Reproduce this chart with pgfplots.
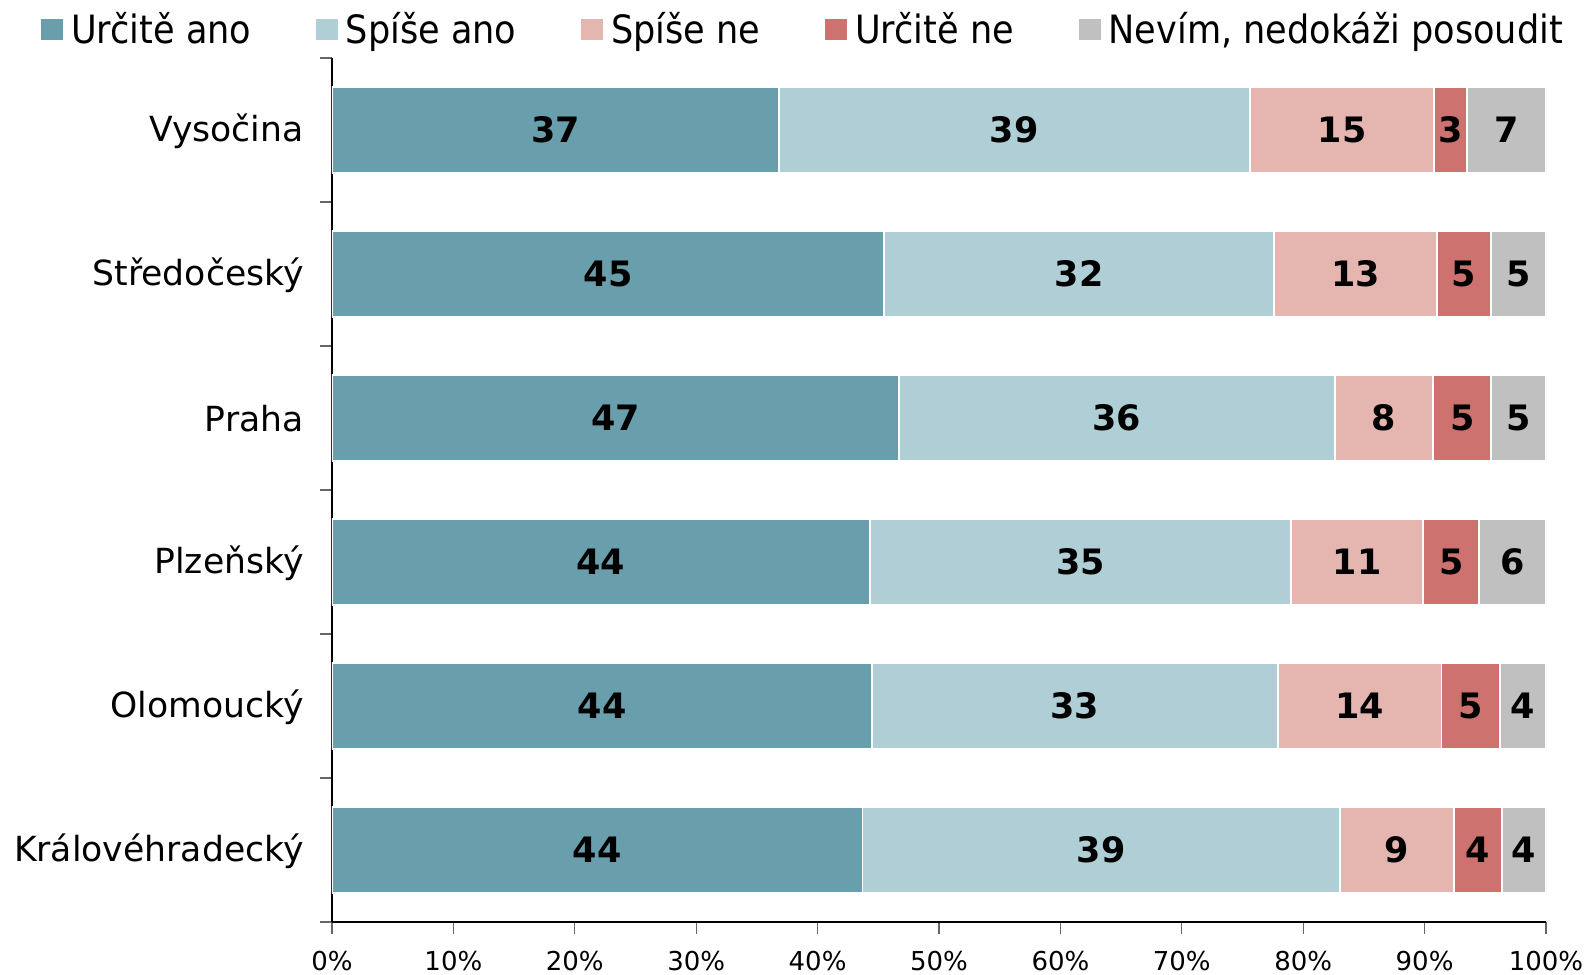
\documentclass[border=0pt]{standalone}
\usepackage{pgfplots}
\pgfplotsset{compat=1.18}
\usepackage{pgfplotstable}
\usepackage{fontspec}
\setmainfont{DejaVu Sans}
\newfontfamily\condfont{DejaVu Sans Condensed}
\definecolor{c1}{HTML}{699FAD}
\definecolor{c2}{HTML}{B0CED6}
\definecolor{c3}{HTML}{E5B5B0}
\definecolor{c4}{HTML}{CD726E}
\definecolor{c5}{HTML}{C0C0C0}
\pgfplotstableread{
y a la b lb c lc d ld e le
0 43.7 44 39.3 39 9.4 9 4.0 4 3.6 4
1 44.5 44 33.4 33 13.5 14 4.8 5 3.8 4
2 44.3 44 34.7 35 10.9 11 4.6 5 5.5 6
3 46.7 47 35.9 36 8.1 8 4.8 5 4.5 5
4 45.5 45 32.1 32 13.4 13 4.5 5 4.5 5
5 36.8 37 38.8 39 15.2 15 2.7 3 6.5 7
}\data
\pgfplotsset{
  seg/.style={fill=#1, draw=white, line width=0.9pt,
    legend image code/.code={\fill[#1] (0pt,-5pt) rectangle (10pt,5pt);}},
  lab/.style={only marks, mark=*, mark size=0pt, mark options={draw=none, fill=none},
    nodes near coords, point meta=explicit symbolic, nodes near coords align={center},
    every node near coord/.append style={font=\bfseries\fontsize{17.5}{17.5}\selectfont, text=black, anchor=center}},
}
\begin{document}
\begin{tikzpicture}
\begin{axis}[
  scale only axis, width=607pt, height=432pt,
  xbar stacked, bar width=0.6,
  xmin=0, xmax=100, ymin=-0.5, ymax=5.5,
  axis x line*=bottom, axis y line*=left,
  axis line style={black, line width=0.6pt},
  xtick={0,10,...,100},
  /pgf/number format/assume math mode=true,
  xticklabel={\pgfmathprintnumber{\tick}\%},
  xticklabel style={inner sep=0pt, anchor=north, yshift=-8.5pt, font=\fontsize{13}{13}\selectfont},
  tick align=outside, major tick length=6pt,
  tick style={gray!80!black, line width=0.6pt},
  ytick={-0.5,0.5,...,5.5}, yticklabels={},
  extra y ticks={0,1,2,3,4,5},
  extra y tick labels={Královéhradecký,Olomoucký,Plzeňský,Praha,Středočeský,Vysočina},
  extra y tick style={major tick length=0pt, yticklabel style={inner sep=0pt, anchor=east, xshift=-14pt, yshift=-0.5pt, font=\fontsize{17.3}{17.3}\selectfont}},
  legend style={draw=none, fill=none, legend columns=5, at={(axis description cs:-0.2397,1.033)}, anchor=west,
    font=\condfont\fontsize{19.5}{21}\selectfont, inner sep=0pt,
    /tikz/every odd column/.append style={column sep=2pt},
    /tikz/every even column/.append style={column sep=30.5pt}},
  legend cell align=left,
]
\addplot[seg=c1] table[x=a, y=y] {\data};
\addlegendentry{Určitě ano}
\addplot[seg=c2] table[x=b, y=y] {\data};
\addlegendentry{Spíše ano}
\addplot[seg=c3] table[x=c, y=y] {\data};
\addlegendentry{Spíše ne}
\addplot[seg=c4] table[x=d, y=y] {\data};
\addlegendentry{Určitě ne}
\addplot[seg=c5] table[x=e, y=y] {\data};
\addlegendentry{Nevím, nedokáži posoudit}
\end{axis}
\begin{axis}[
  scale only axis, width=607pt, height=432pt,
  xmin=0, xmax=100, ymin=-0.5, ymax=5.5, hide axis,
]
\addplot[lab] table[x expr=\thisrow{a}/2, y=y, meta=la] {\data};
\addplot[lab] table[x expr=\thisrow{a}+\thisrow{b}/2, y=y, meta=lb] {\data};
\addplot[lab] table[x expr=\thisrow{a}+\thisrow{b}+\thisrow{c}/2, y=y, meta=lc] {\data};
\addplot[lab] table[x expr=\thisrow{a}+\thisrow{b}+\thisrow{c}+\thisrow{d}/2, y=y, meta=ld] {\data};
\addplot[lab] table[x expr=\thisrow{a}+\thisrow{b}+\thisrow{c}+\thisrow{d}+\thisrow{e}/2, y=y, meta=le] {\data};
\end{axis}
\pgfresetboundingbox
\path[use as bounding box] ([xshift=-166pt,yshift=-26.5pt]current axis.south west) rectangle ([xshift=23pt,yshift=29pt]current axis.north east);
\end{tikzpicture}
\end{document}
